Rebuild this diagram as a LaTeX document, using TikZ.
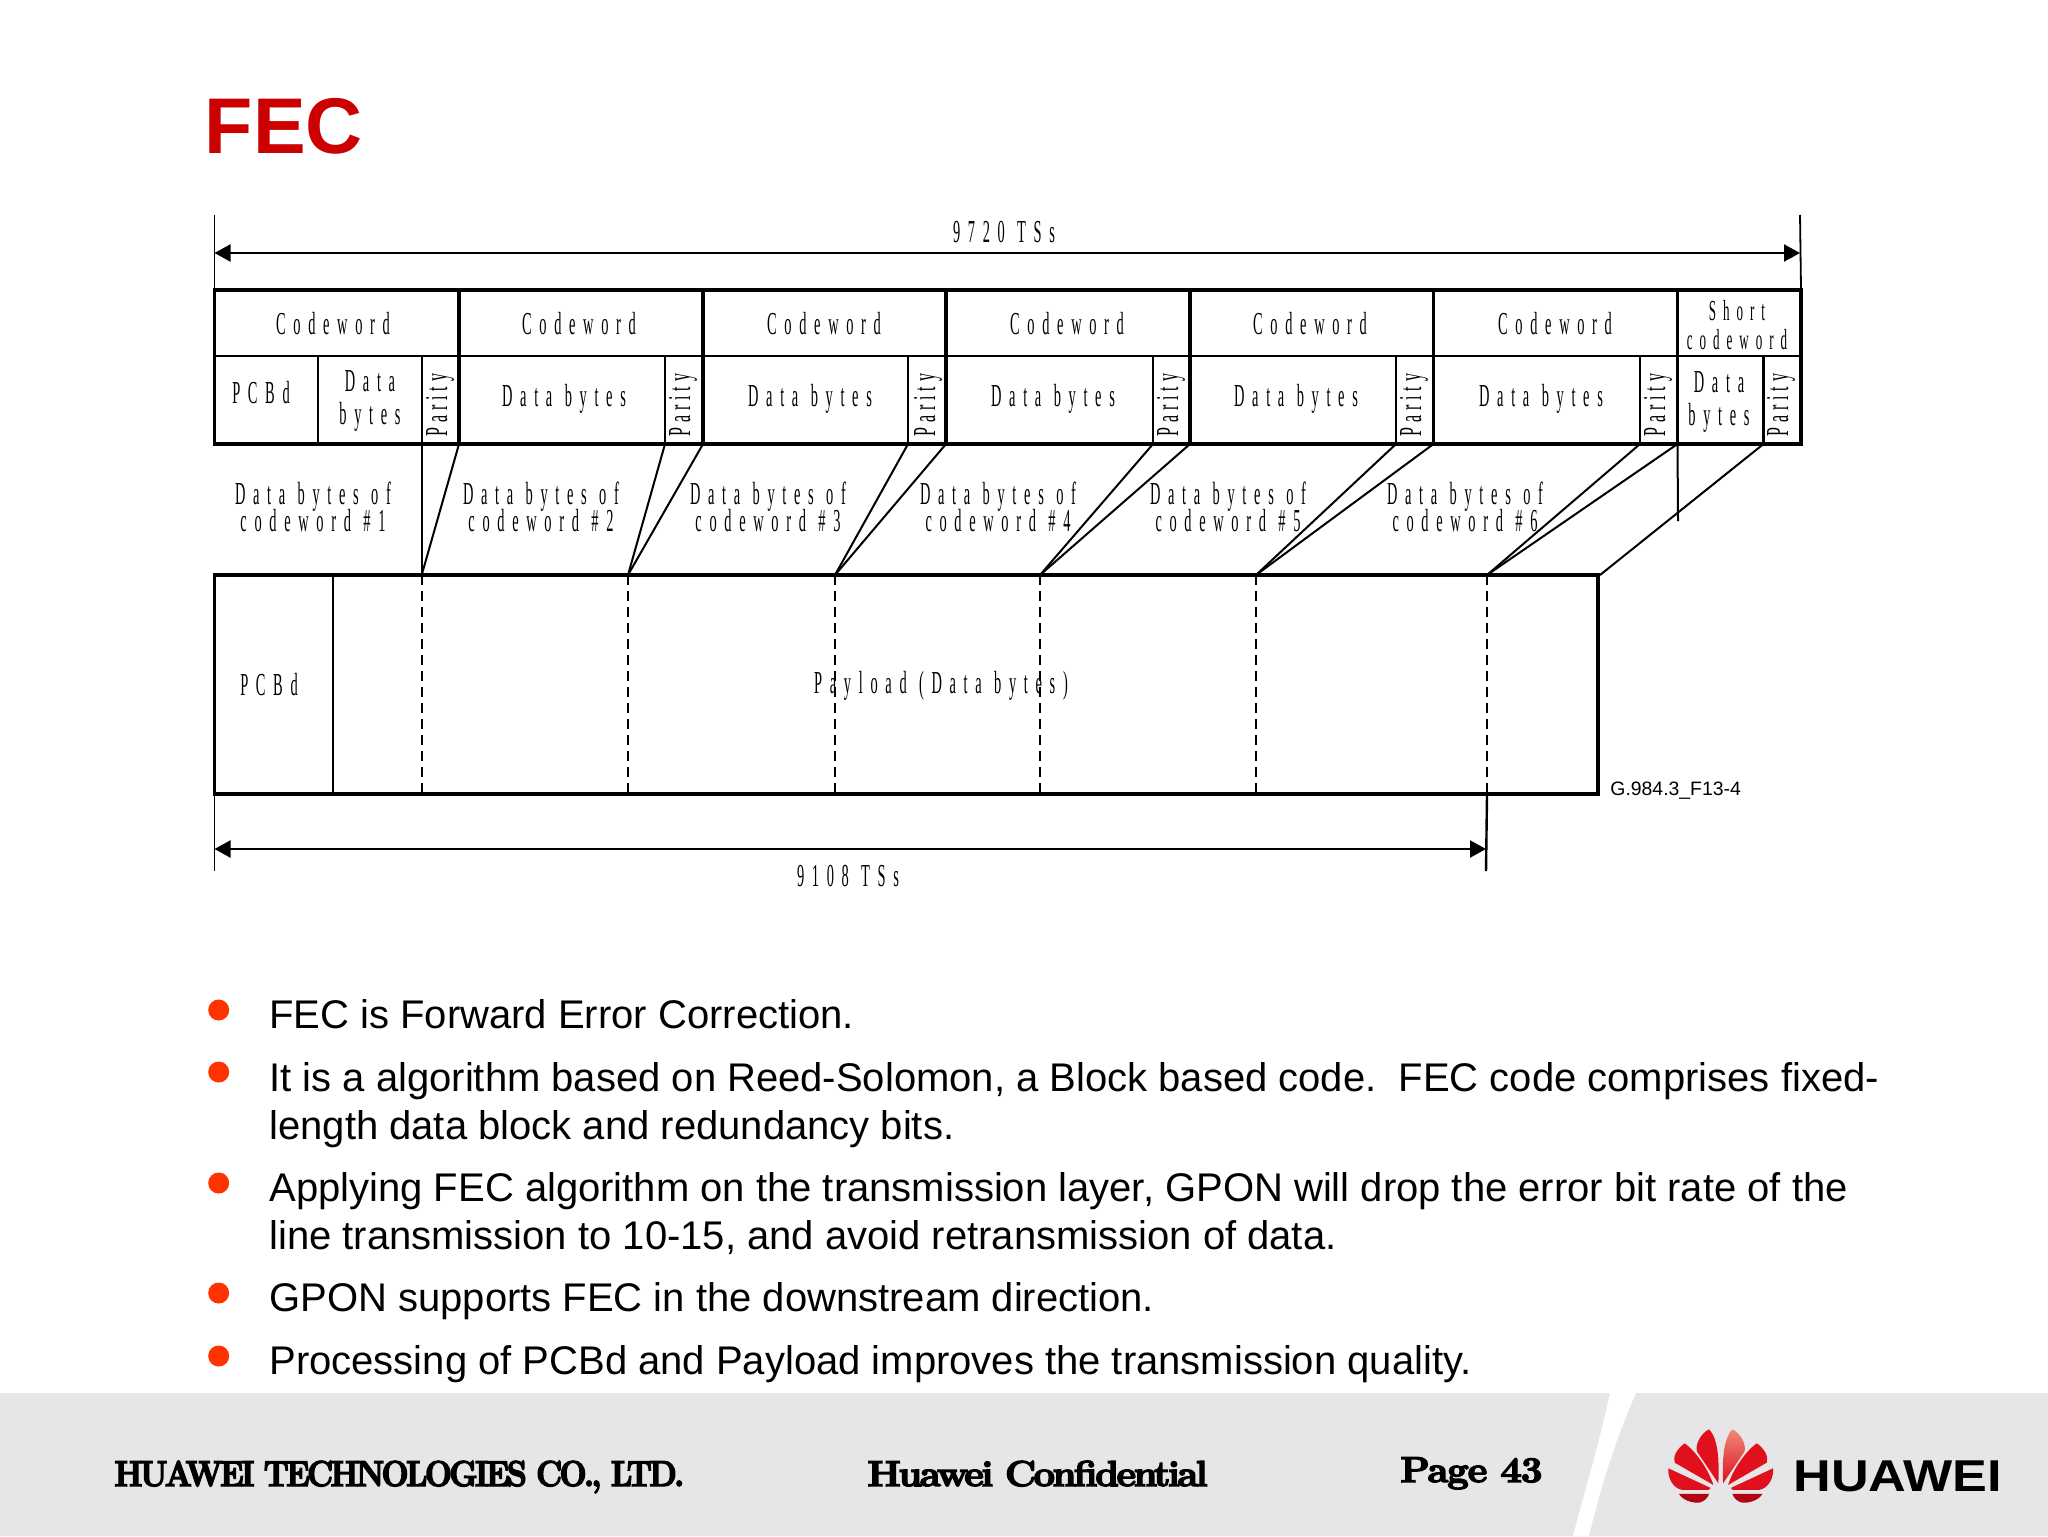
\documentclass[tikz,border=0pt]{standalone}
\usepackage{fontspec}
\usepackage{tikz}
\usetikzlibrary{arrows.meta}
\setmainfont{Liberation Sans}
\newfontfamily\thinfont[FakeStretch=0.45,LetterSpace=24,WordSpace=1.1]{Liberation Serif}
\newfontfamily\parfont[FakeStretch=0.5,LetterSpace=15]{Liberation Serif}
\newfontfamily\footfont[FakeStretch=0.885,LetterSpace=-7,FakeBold=4]{Latin Modern Roman}
\newfontfamily\conffont[FakeStretch=1.06,LetterSpace=-7,FakeBold=4]{Latin Modern Roman}
\newfontfamily\pagefont[FakeStretch=1.06,LetterSpace=-3,FakeBold=4]{Latin Modern Roman}
\newfontfamily\logofont[FakeStretch=1.17]{Liberation Sans}
\definecolor{titlered}{HTML}{CC0000}
\definecolor{bulletred}{HTML}{FF3300}
\definecolor{footgray}{HTML}{E6E6E9}
\definecolor{petalred}{HTML}{E0101C}
\definecolor{petaldark}{HTML}{B00410}
\definecolor{petallight}{HTML}{EE8A78}

\begin{document}
\begin{tikzpicture}[x=0.5pt, y=-0.5pt,
  cell/.style={inner sep=0pt, align=center, font={\thinfont\fontsize{16}{13.5}\selectfont\lineskiplimit=-10pt}},
  smallcell/.style={cell, font={\thinfont\fontsize{14.5}{13.5}\selectfont\lineskiplimit=-10pt}},
  parity/.style={cell, rotate=90, font=\parfont\fontsize{16}{14}\selectfont},
  heavy/.style={line width=1.75pt, line cap=rect},
  medium/.style={line width=1.2pt},
  slant/.style={line width=1pt},
  cut/.style={line width=1pt, dash pattern=on 5pt off 3pt},
  dim/.style={line width=1.1pt, {Triangle[length=8pt,width=8.5pt]}-{Triangle[length=8pt,width=8.5pt]}},
  line/.style={anchor=base west, inner sep=0pt, font=\fontsize{20}{24}\selectfont},
  dot/.style={circle, fill=bulletred, inner sep=0pt, minimum size=10.5pt},
  foot/.style={anchor=base west, inner sep=0pt},
  petals/.pic={
    \fill[petalred] (22,5) .. controls (40,-50) and (80,-100) .. (108,-120) .. controls (130,-105) and (145,-80) .. (138,-62) -- cycle;
    \fill[petalred] (30,14) -- (157,-45) .. controls (160,-20) and (145,15) .. (115,20) -- (37,20) -- cycle;
    \fill[petaldark] (35,32) -- (125,32) .. controls (115,50) and (85,60) .. (65,58) .. controls (50,55) and (40,45) .. cycle;
  }]
\useasboundingbox (0,0) rectangle (2048,1536);
\fill[white] (0,0) rectangle (2048,1536);

\node[anchor=base west, inner sep=0pt, text=titlered, font=\bfseries\fontsize{39.5}{48}\selectfont] (title) at (204.5,154) {FEC};

\coordinate (topl) at (214.5,215);
\coordinate (topr) at (1800,215);
\coordinate (al) at (214.5,253);
\coordinate (ar) at (1800,253);
\coordinate (fl) at (214.5,290);
\coordinate (fr) at (1801,290);
\coordinate (ml) at (214.5,356);
\coordinate (mr) at (1801,356);
\coordinate (bl) at (214.5,444);
\coordinate (br) at (1801,444);

\draw[line width=0.9pt] (topl) -- (fl);
\draw[line width=0.9pt] (topr) -- (fr);
\draw[dim] (al) -- (ar);
\node[cell] (total) at (1004,232) {9720 TSs};

\draw[heavy] (fl) -- (fr);
\draw[medium] (ml) -- (mr);
\draw[heavy] (bl) -- (br);
\draw[heavy] (fl) -- (bl);
\draw[line width=2.1pt, line cap=rect] (fr) -- (br);

\coordinate (s1) at (459,444);
\coordinate (s2) at (703,444);
\coordinate (s3) at (946,444);
\coordinate (s4) at (1190,444);
\coordinate (s5) at (1433.5,444);
\coordinate (s6) at (1677.5,444);
\coordinate (d1) at (421.7,444);
\coordinate (d2) at (665,444);
\coordinate (d3) at (908,444);
\coordinate (d4) at (1153,444);
\coordinate (d5) at (1396,444);
\coordinate (d6) at (1640,444);
\coordinate (d7) at (1763.5,444);

\draw[heavy] (459,290) -- (s1);
\draw[heavy] (703,290) -- (s2);
\draw[heavy] (946,290) -- (s3);
\draw[heavy] (1190,290) -- (s4);
\draw[heavy] (1433.5,290) -- (s5);
\draw[heavy] (1677.5,290) -- (s6);
\draw[medium] (318,356) -- (318,444);
\draw[medium] (421.7,356) -- (d1);
\draw[medium] (665,356) -- (d2);
\draw[medium] (908,356) -- (d3);
\draw[medium] (1153,356) -- (d4);
\draw[medium] (1396,356) -- (d5);
\draw[medium] (1640,356) -- (d6);
\draw[medium] (1763.5,356) -- (d7);

\node[cell] (cw1) at (333,324) {Codeword};
\node[cell] (cw2) at (579,324) {Codeword};
\node[cell] (cw3) at (824,324) {Codeword};
\node[cell] (cw4) at (1067,324) {Codeword};
\node[cell] (cw5) at (1310,324) {Codeword};
\node[cell] (cw6) at (1555,324) {Codeword};
\node[smallcell] (cw7) at (1737,325) {Short\\[1pt]codeword};

\node[cell] (pcb1) at (261,393) {PCBd};
\node[cell] (db1) at (370,400.5) {Data\\[3pt]bytes};
\node[cell] (db2) at (564,398.5) {Data bytes};
\node[cell] (db3) at (810,398.5) {Data bytes};
\node[cell] (db4) at (1053,398.5) {Data bytes};
\node[cell] (db5) at (1296,398.5) {Data bytes};
\node[cell] (db6) at (1541,398.5) {Data bytes};
\node[cell] (db7) at (1719,402) {Data\\[3pt]bytes};

\node[parity] (par1) at (440,405) {Parity};
\node[parity] (par2) at (683,405) {Parity};
\node[parity] (par3) at (928,405) {Parity};
\node[parity] (par4) at (1171,405) {Parity};
\node[parity] (par5) at (1414,405) {Parity};
\node[parity] (par6) at (1658,405) {Parity};
\node[parity] (par7) at (1781,405) {Parity};

\node[cell] (of1) at (313,507) {Data bytes of\\codeword \#1};
\node[cell] (of2) at (541,507) {Data bytes of\\codeword \#2};
\node[cell] (of3) at (768,507) {Data bytes of\\codeword \#3};
\node[cell] (of4) at (998,507) {Data bytes of\\codeword \#4};
\node[cell] (of5) at (1228,507) {Data bytes of\\codeword \#5};
\node[cell] (of6) at (1465,507) {Data bytes of\\codeword \#6};

\coordinate (p1) at (421.7,575);
\coordinate (p2) at (628,575);
\coordinate (p3) at (835,575);
\coordinate (p4) at (1040,575);
\coordinate (p5) at (1256,575);
\coordinate (p6) at (1487,575);
\coordinate (p7) at (1600,575);
\coordinate (q1) at (421.7,794);
\coordinate (q2) at (628,794);
\coordinate (q3) at (835,794);
\coordinate (q4) at (1040,794);
\coordinate (q5) at (1256,794);
\coordinate (q6) at (1487,794);
\coordinate (drop) at (1678,521);

\path[slant]
(d1) edge (p1)
(s1) edge (p1)
(d2) edge (p2)
(s2) edge (p2)
(d3) edge (p3)
(s3) edge (p3)
(d4) edge (p4)
(s4) edge (p4)
(d5) edge (p5)
(s5) edge (p5)
(d6) edge (p6)
(s6) edge (p6)
(d7) edge (p7)
(s6) edge (drop)
;

\draw[heavy] (214.5,575) -- (1598,575);
\draw[heavy] (214.5,794) -- (1598,794);
\draw[heavy] (214.5,575) -- (214.5,794);
\draw[line width=2.3pt, line cap=rect] (1598,575) -- (1598,794);
\draw[medium] (333,575) -- (333,794);

\path[cut]
(p1) edge (q1)
(p2) edge (q2)
(p3) edge (q3)
(p4) edge (q4)
(p5) edge (q5)
(p6) edge (q6)
;

\node[cell] (pcb2) at (269,685) {PCBd};
\node[cell] (pay) at (941,686) {Payload (Data bytes)};
\node[anchor=base west, inner sep=0pt, font=\fontsize{9.7}{11}\selectfont] (fig) at (1610,795) {G.984.3\_F13-4};

\coordinate (el) at (214.5,794);
\coordinate (eb) at (214.5,871);
\coordinate (cl) at (214.5,849);
\coordinate (cr) at (1486,849);
\coordinate (erb) at (1486,871);
\draw[line width=0.9pt] (el) -- (eb);
\draw[line width=1.2pt] (q6) -- (erb);
\draw[dim] (cl) -- (cr);
\node[cell] (sub) at (848,876) {9108 TSs};

\node[dot] (b1) at (218.7,1010) {};
\node[dot] (b2) at (218.7,1072) {};
\node[dot] (b3) at (218.7,1183) {};
\node[dot] (b4) at (218.7,1293) {};
\node[dot] (b5) at (218.7,1356) {};
\node[line] (l1) at (269,1028) {FEC is Forward Error Correction.};
\node[line] (l2) at (269,1091) {It is a algorithm based on Reed-Solomon, a Block based code.\ \ FEC code comprises fixed-};
\node[line] (l3) at (269,1139) {length data block and redundancy bits.};
\node[line] (l4) at (269,1201.5) {Applying FEC algorithm on the transmission layer, GPON will drop the error bit rate of the};
\node[line] (l5) at (269,1249.5) {line transmission to 10-15, and avoid retransmission of data.};
\node[line] (l6) at (269,1311.5) {GPON supports FEC in the downstream direction.};
\node[line] (l7) at (269,1374) {Processing of PCBd and Payload improves the transmission quality.};

\fill[footgray] (0,1393) rectangle (2048,1536);
\fill[white] (1610,1393) -- (1636,1393) .. controls (1615,1440) and (1600,1490) .. (1589,1536) -- (1573,1536) .. controls (1585,1490) and (1600,1440) .. cycle;

\node[foot, font=\footfont\bfseries\fontsize{18}{20}\selectfont] (co) at (114,1486) {HUAWEI TECHNOLOGIES CO., LTD.};
\node[foot, font=\conffont\bfseries\fontsize{18}{20}\selectfont] (conf) at (867,1486) {Huawei Confidential};
\node[foot, font=\pagefont\bfseries\fontsize{18}{20}\selectfont] (page) at (1400,1482) {Page 43};

\begin{scope}[shift={(1720.7,1483.3)}, x=0.1667pt, y=-0.1667pt]
\pic[xscale=1] {petals};
\pic[xscale=-1] {petals};
\shade[top color=petallight, bottom color=petalred] (7,0) .. controls (5,-60) and (5,-130) .. (35,-162) .. controls (60,-150) and (78,-115) .. (71,-95) -- cycle;
\fill[petalred] (-7,0) .. controls (-5,-60) and (-5,-130) .. (-35,-162) .. controls (-60,-150) and (-78,-115) .. (-71,-95) -- cycle;
\end{scope}
\node[foot, font=\logofont\bfseries\fontsize{22.3}{24}\selectfont] (logo) at (1793,1491) {HUAWEI};
\end{tikzpicture}
\end{document}
